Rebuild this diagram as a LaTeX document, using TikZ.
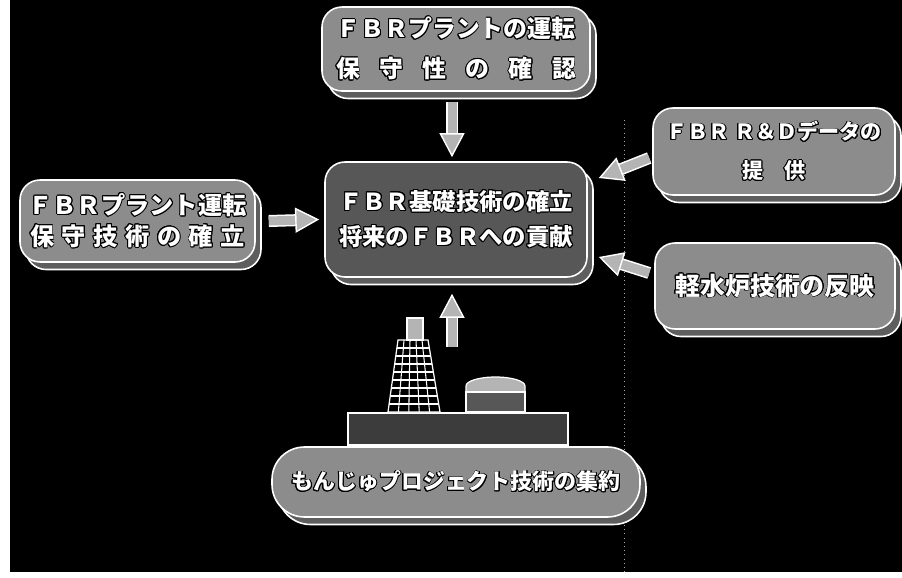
\documentclass[tikz,border=0pt]{standalone}
\usepackage{fontspec}
\usepackage{contour}
\newfontfamily\jpfont{Noto Sans CJK JP}
\usetikzlibrary{calc,shadows,arrows.meta}

\definecolor{facegray}{HTML}{8C8C8C}
\definecolor{coregray}{HTML}{575757}
\definecolor{shadegray}{HTML}{5E5E5E}
\definecolor{arrowgray}{HTML}{B4B4B4}
\definecolor{basegray}{HTML}{3C3C3C}

\contourlength{0.5pt}
\newcommand\ol[1]{\contour{black}{#1}}

\begin{document}
\begin{tikzpicture}[
    panel/.style={rectangle, rounded corners=0.4cm, draw=white, line width=0.9pt,
        fill=facegray, text=white, align=center, inner sep=0pt,
        copy shadow={shadow xshift=0.12cm, shadow yshift=-0.15cm, fill=shadegray, draw=white}},
    flow/.style={draw=arrowgray, line width=0.18cm,
        -{Triangle[width=0.5cm, length=0.48cm, line width=0.8pt, fill=arrowgray, color=white]},
        preaction={draw=white, line width=0.24cm, arrows=-, shorten >=0.44cm}},
    plantpart/.style={draw=white, line width=0.7pt},
    grid/.style={draw=white, line width=0.6pt}
]
\useasboundingbox (0,0) rectangle (18.04,11.54);
\fill[white] (0,0) rectangle (18.04,11.54);
\fill[black] (0.2,0.1) rectangle (18.04,11.54);
\draw[gray!70, dotted, line width=0.4pt] (12.48,9.14) -- (12.48,0.1);

% plant: base block, tower with grid, chimney, dome
\fill[plantpart, fill=basegray] (6.96,2.64) rectangle (11.36,3.28);
\coordinate (tbl) at (7.76,3.30);
\coordinate (tbr) at (8.80,3.30);
\coordinate (ttl) at (7.96,4.74);
\coordinate (ttr) at (8.56,4.74);
\fill[plantpart, fill=black] (tbl) -- (tbr) -- (ttr) -- (ttl) -- cycle;
\foreach \i in {1,...,4}
    \draw[grid] ($(tbl)!\i/5!(tbr)$) -- ($(ttl)!\i/5!(ttr)$);
\foreach \j in {1,...,8}
    \draw[grid] ($(tbl)!\j/9!(ttl)$) -- ($(tbr)!\j/9!(ttr)$);
\fill[plantpart, fill=arrowgray] (8.14,4.74) rectangle (8.46,5.18);
\fill[plantpart, fill=arrowgray] (9.32,3.70) -- (9.32,3.82)
    arc[start angle=180, end angle=0, x radius=0.59, y radius=0.18] -- (10.50,3.70) -- cycle;
\fill[plantpart, fill=coregray] (9.32,3.30) rectangle (10.50,3.70);

% boxes
\node[panel, minimum width=5.36cm, minimum height=1.68cm,
    font={\jpfont\bfseries\fontsize{13.6}{22.8}\selectfont}] (unten) at (9.12,10.56)
    {\ol{ＦＢＲプラントの運転}\\
     \ol{\makebox[4.8cm]{保\hfill 守\hfill 性\hfill の\hfill 確\hfill 認}}};
\node[panel, fill=coregray, minimum width=5.24cm, minimum height=2.30cm,
    font={\jpfont\bfseries\fontsize{13.3}{20}\selectfont}] (kiso) at (9.12,7.15)
    {\ol{ＦＢＲ基礎技術の確立}\\\ol{将来のＦＢＲへの貢献}};
\node[panel, minimum width=4.70cm, minimum height=1.64cm,
    font={\jpfont\bfseries\fontsize{13.8}{17.5}\selectfont}] (hoshu) at (2.75,7.12)
    {\ol{ＦＢＲプラント運転}\\
     \ol{\makebox[4.3cm]{保\hfill 守\hfill 技\hfill 術\hfill の\hfill 確\hfill 立}}};
\node[panel, minimum width=4.84cm, minimum height=1.74cm,
    font={\jpfont\bfseries\fontsize{12}{22}\selectfont}] (rd) at (15.48,8.51)
    {\ol{ＦＢＲ Ｒ＆Ｄデータの}\\\ol{提　供}};
\node[panel, minimum width=4.80cm, minimum height=1.72cm,
    font={\jpfont\bfseries\fontsize{14.2}{20}\selectfont}] (lwr) at (15.50,5.82)
    {\ol{軽水炉技術の反映}};
\node[panel, rounded corners=0.65cm, minimum width=7.36cm, minimum height=1.40cm,
    font={\jpfont\bfseries\fontsize{12.5}{18}\selectfont}] (monju) at (9.12,1.90)
    {\ol{もんじゅプロジェクト技術の集約}};

% arrows into the centre box
\coordinate (plant) at (9.04,4.60);
\draw[flow] ([shift={(-0.08,-0.2)}]unten.south) -- ([shift={(-0.08,0.08)}]kiso.north);
\draw[flow] ([xshift=0.26cm]hoshu.east) -- ([xshift=-0.1cm]kiso.west);
\draw[flow] ([shift={(-0.06,-0.13)}]rd.west) -- ([shift={(0.22,0.83)}]kiso.east);
\draw[flow] ([shift={(-0.10,0.26)}]lwr.west) -- ([shift={(0.22,-0.75)}]kiso.east);
\draw[flow] (plant) -- ($(plant |- kiso.south)+(0,-0.32)$);

\end{tikzpicture}
\end{document}
